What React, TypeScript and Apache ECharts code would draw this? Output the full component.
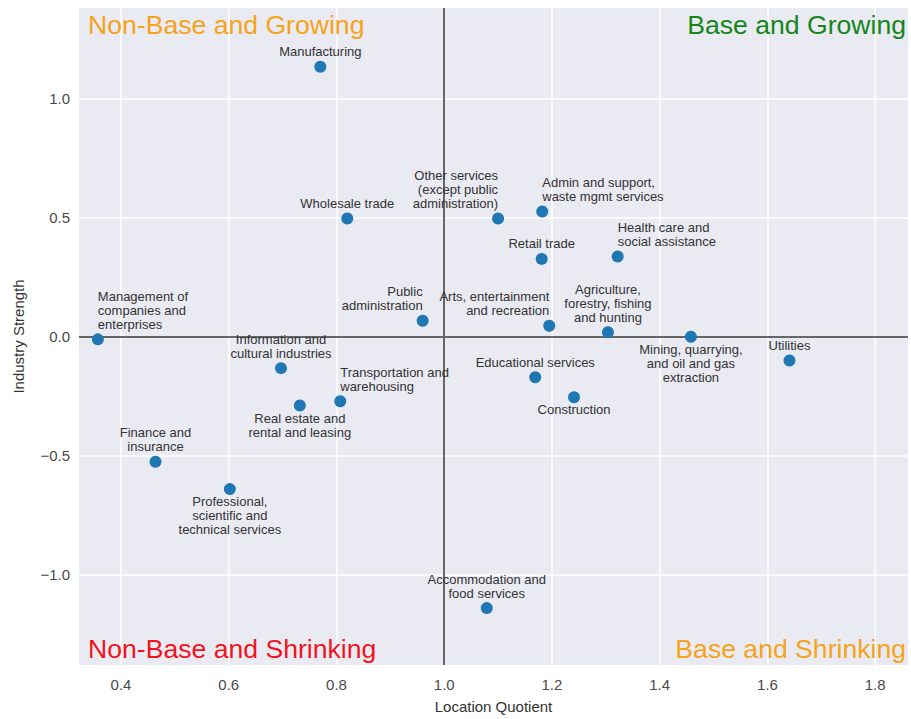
import React, { useEffect, useRef } from "react";
import * as echarts from "echarts";

const industries = [
  "Manufacturing",
  "Wholesale trade",
  "Management of\ncompanies and\nenterprises",
  "Public\nadministration",
  "Other services\n(except public\nadministration)",
  "Admin and support,\nwaste mgmt services",
  "Retail trade",
  "Health care and\nsocial assistance",
  "Arts, entertainment\nand recreation",
  "Agriculture,\nforestry, fishing\nand hunting",
  "Mining, quarrying,\nand oil and gas\nextraction",
  "Utilities",
  "Educational services",
  "Construction",
  "Accommodation and\nfood services",
  "Information and\ncultural industries",
  "Transportation and\nwarehousing",
  "Real estate and\nrental and leasing",
  "Finance and\ninsurance",
  "Professional,\nscientific and\ntechnical services",
];

const locationQuotient = [
  0.77, 0.82, 0.357, 0.96, 1.1, 1.182, 1.181, 1.322, 1.195, 1.304,
  1.458, 1.641, 1.169, 1.241, 1.079, 0.697, 0.807, 0.732, 0.464, 0.602,
];

const industryStrength = [
  1.133, 0.496, -0.012, 0.066, 0.496, 0.525, 0.326, 0.336, 0.045, 0.018,
  -0.001, -0.101, -0.171, -0.255, -1.141, -0.133, -0.272, -0.29, -0.526, -0.641,
];

// label placement relative to the point: above centred, above starting at point,
// above ending at point, below centred
const labelPlacement = [
  "top", "top", "topLeft", "topRight", "topRight", "topLeft", "top", "topLeft",
  "topRight", "top", "bottom", "top", "top", "bottom", "top", "top", "topLeft",
  "bottom", "top", "bottom",
];

const xTicks = [0.4, 0.6, 0.8, 1.0, 1.2, 1.4, 1.6, 1.8];
const yTicks = [-1.0, -0.5, 0.0, 0.5, 1.0];

const quadrants = [
  { text: "Non-Base and Growing", color: "#F5A31A", side: "left", row: "top" },
  { text: "Base and Growing", color: "#15861A", side: "right", row: "top" },
  { text: "Non-Base and Shrinking", color: "#F0141E", side: "left", row: "bottom" },
  { text: "Base and Shrinking", color: "#F5A31A", side: "right", row: "bottom" },
];

const FONT = "'Liberation Sans', Arial, Helvetica, sans-serif";

function labelFor(p: string) {
  if (p === "bottom") {
    return { position: [6, 11.5], align: "center", verticalAlign: "top" };
  }
  const align = p === "topLeft" ? "left" : p === "topRight" ? "right" : "center";
  return { position: [6, -2], align, verticalAlign: "bottom" };
}

export default function App() {
  const ref = useRef<HTMLDivElement>(null);
  useEffect(() => {
    if (!ref.current) return;
    const chart = echarts.init(ref.current, null, { renderer: "svg" });
    const data = industries.map((name, i) => ({
      name,
      value: [locationQuotient[i], industryStrength[i]],
      label: labelFor(labelPlacement[i]),
    }));
    chart.setOption({
      animation: false,
      backgroundColor: "#ffffff",
      textStyle: { fontFamily: FONT },
      grid: {
        left: 79,
        top: 8,
        right: 3,
        bottom: 49,
        show: true,
        backgroundColor: "#EAEAF2",
        borderWidth: 0,
      },
      xAxis: {
        type: "value",
        min: 0.322,
        max: 1.861,
        name: "Location Quotient",
        nameLocation: "middle",
        nameGap: 34,
        nameTextStyle: { fontSize: 15, color: "#333333", fontFamily: FONT },
        axisLine: { show: false },
        axisTick: { show: false, customValues: xTicks },
        axisLabel: {
          customValues: xTicks,
          formatter: (v: number) => v.toFixed(1),
          fontSize: 15,
          color: "#4a4a4a",
          margin: 12,
          fontFamily: FONT,
        },
        splitLine: { show: true, lineStyle: { color: "#ffffff", width: 1.5 } },
      },
      yAxis: {
        type: "value",
        min: -1.38,
        max: 1.38,
        name: "Industry Strength",
        nameLocation: "middle",
        nameGap: 53,
        nameTextStyle: { fontSize: 15, color: "#333333", fontFamily: FONT },
        axisLine: { show: false },
        axisTick: { show: false, customValues: yTicks },
        axisLabel: {
          customValues: yTicks,
          formatter: (v: number) => (v < 0 ? "\u2212" + Math.abs(v).toFixed(1) : v.toFixed(1)),
          fontSize: 15,
          color: "#4a4a4a",
          margin: 9,
          fontFamily: FONT,
        },
        splitLine: { show: true, lineStyle: { color: "#ffffff", width: 1.5 } },
      },
      graphic: quadrants.map((q) => ({
        type: "text",
        silent: true,
        z: 10,
        x: q.side === "left" ? 88 : 906,
        y: q.row === "top" ? 25 : 649,
        style: {
          text: q.text,
          fill: q.color,
          fontSize: 26.6,
          fontFamily: FONT,
          textAlign: q.side === "left" ? "left" : "right",
          textVerticalAlign: "middle",
        },
      })),
      series: [
        {
          type: "scatter",
          data,
          symbolSize: 12,
          itemStyle: { color: "#1F77B4", opacity: 1 },
          z: 3,
          label: {
            show: true,
            formatter: (p: any) => p.name,
            fontSize: 13,
            lineHeight: 14,
            color: "#333333",
            fontFamily: FONT,
          },
          markLine: {
            silent: true,
            symbol: "none",
            z: 2,
            label: { show: false },
            lineStyle: { color: "#666666", width: 2, type: "solid" },
            data: [{ xAxis: 1.0 }, { yAxis: 0.0 }],
          },
        },
      ],
    });
    return () => chart.dispose();
  }, []);
  return (
    <div
      ref={ref}
      style={{ position: "absolute", left: 0, top: 0, width: 911, height: 719 }}
    />
  );
}
